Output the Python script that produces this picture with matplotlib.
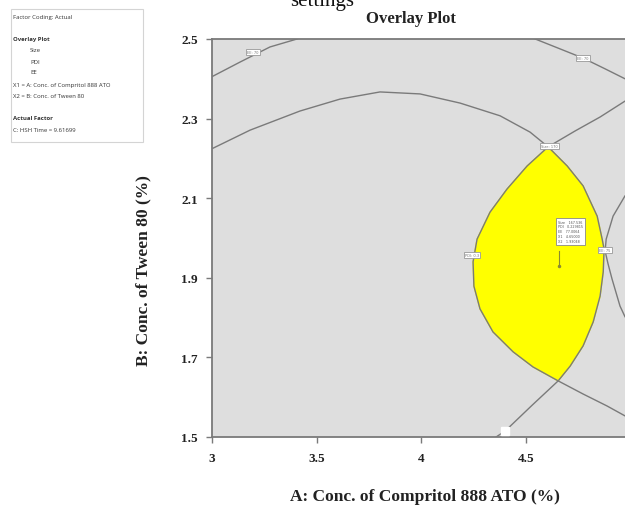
import matplotlib
matplotlib.use("Agg")
import matplotlib.pyplot as plt
from matplotlib.patches import Rectangle

W, H = 625, 510

# contour lines (x = A, y = B)
curve_a_x = [2.99, 3.000, 3.135, 3.278, 3.407, 3.43]
curve_a_y = [2.402, 2.405, 2.442, 2.480, 2.500, 2.506]

curve_b_x = [4.51, 4.534, 4.639, 4.772, 4.877, 4.972, 5.044]
curve_b_y = [2.508, 2.502, 2.480, 2.452, 2.425, 2.400, 2.379]

curve_c_x = [2.99, 3.000, 3.183, 3.421, 3.612, 3.803, 3.994, 4.185, 4.376, 4.519,
             4.605, 4.696, 4.772, 4.839, 4.863, 4.872, 4.868, 4.853, 4.820, 4.772,
             4.710, 4.653, 4.529, 4.400, 4.328, 4.28]
curve_c_y = [2.221, 2.224, 2.271, 2.319, 2.349, 2.367, 2.362, 2.339, 2.307, 2.266,
             2.229, 2.181, 2.131, 2.055, 1.997, 1.972, 1.915, 1.854, 1.789, 1.729,
             1.678, 1.641, 1.580, 1.515, 1.490, 1.470]

curve_d_x = [5.04, 4.972, 4.853, 4.734, 4.605, 4.505, 4.409, 4.328, 4.266, 4.247,
             4.251, 4.280, 4.342, 4.438, 4.533, 4.653, 4.772, 4.886, 4.972, 5.04]
curve_d_y = [2.352, 2.344, 2.304, 2.269, 2.229, 2.181, 2.123, 2.065, 1.997, 1.940,
             1.879, 1.822, 1.764, 1.714, 1.676, 1.641, 1.608, 1.578, 1.553, 1.535]

curve_e_x = [5.044, 4.972, 4.915, 4.882, 4.877, 4.891, 4.910, 4.948, 4.972, 5.044]
curve_e_y = [2.128, 2.106, 2.055, 1.997, 1.967, 1.935, 1.897, 1.829, 1.802, 1.759]

# contour labels (unreadable in the source, approximated)
label_x = [3.197, 4.772, 4.611, 4.242, 4.876]
label_y = [2.467, 2.452, 2.232, 1.957, 1.970]
label_txt = ["EE: 70", "EE: 70", "Size: 170", "PDI: 0.3", "EE: 75"]

flag_x, flag_y = 4.655, 1.930
flag_lines = ["Size   167.536", "PDI   0.229815", "EE   77.0064",
              "X1   4.65000", "X2   1.93048"]

xticks = [3, 3.5, 4, 4.5, 5]
yticks = [1.5, 1.7, 1.9, 2.1, 2.3, 2.5]

box_lines = [
    ("Factor Coding: Actual", 17, 13, "normal"),
    ("Overlay Plot", 40, 13, "bold"),
    ("Size", 51, 30, "normal"),
    ("PDI", 62, 30, "normal"),
    ("EE", 73, 30, "normal"),
    ("X1 = A: Conc. of Compritol 888 ATO", 85, 13, "normal"),
    ("X2 = B: Conc. of Tween 80", 96, 13, "normal"),
    ("Actual Factor", 119, 13, "bold"),
    ("C: HSH Time = 9.61699", 130, 13, "normal"),
]

gray = "#7a7a7a"
serif = "Liberation Serif"

fig = plt.figure(figsize=(W / 100, H / 100), dpi=100)

def fx(px):
    return px / W

def fy(py):
    return 1 - py / H

ax = fig.add_axes([fx(211.7), fy(438), (630.9 - 211.7) / W, (438 - 40) / H])
ax.set_facecolor("#dedede")
ax.set_xlim(3, 5)
ax.set_ylim(1.5, 2.5)

# feasible (yellow) region: left side from curve D, right side from curve C
fill_x = curve_d_x[4:16] + curve_c_x[10:22][::-1]
fill_y = curve_d_y[4:16] + curve_c_y[10:22][::-1]
ax.fill(fill_x, fill_y, color="#ffff00", zorder=1)

for cx, cy in [(curve_a_x, curve_a_y), (curve_b_x, curve_b_y), (curve_c_x, curve_c_y),
               (curve_d_x, curve_d_y), (curve_e_x, curve_e_y)]:
    ax.plot(cx, cy, color=gray, lw=1.0, zorder=2)

for lx, ly, t in zip(label_x, label_y, label_txt):
    ax.text(lx, ly, t, fontsize=2.6, color="#777777", ha="center", va="center",
            zorder=4, bbox=dict(boxstyle="square,pad=0.3", fc="white", ec="#999999", lw=0.6))

# flag
ax.plot([flag_x, flag_x], [flag_y, 1.968], color="#8a8a30", lw=0.8, zorder=3)
ax.plot(flag_x, flag_y, marker="o", ms=1.5, color="#8a8a30", zorder=3)
ax.text(flag_x - 0.004, 2.046, "\n".join(flag_lines), fontsize=2.4, color="#555555",
        ha="left", va="top", linespacing=1.25, zorder=5,
        bbox=dict(boxstyle="square,pad=0.6", fc="white", ec="#888888", lw=0.6))

# white marker at the lower edge
ax.plot(4.40, 1.515, marker="s", ms=6, color="white", mec="white", zorder=5)

for s in ax.spines.values():
    s.set_color(gray)
    s.set_linewidth(1.3)

ax.set_xticks(xticks)
ax.set_xticklabels(["3", "3.5", "4", "4.5", "5"])
ax.set_yticks(yticks)
ax.set_yticklabels(["1.5", "1.7", "1.9", "2.1", "2.3", "2.5"])
ax.tick_params(direction="out", length=4, width=1, color=gray)
ax.tick_params(axis="x", pad=7)
ax.tick_params(axis="y", pad=6)
for lab in ax.get_xticklabels() + ax.get_yticklabels():
    lab.set_fontfamily(serif)
    lab.set_fontweight("bold")
    lab.set_fontsize(9.5)
    lab.set_color("#222222")

# texts around the plot
fig.text(fx(322), fy(6), "settings", fontsize=15, family=serif, ha="center",
         va="baseline", color="#111111")
fig.text(fx(411), fy(19), "Overlay Plot", fontsize=12, family=serif, weight="bold",
         ha="center", va="center", color="#222222")
fig.text(fx(425), fy(497), "A: Conc. of Compritol 888 ATO (%)", fontsize=12.5,
         family=serif, weight="bold", ha="center", va="center", color="#222222")
fig.text(fx(143), fy(271), "B: Conc. of Tween 80 (%)", fontsize=12.5, family=serif,
         weight="bold", ha="center", va="center", rotation=90, color="#222222")

# info box on the left
fig.patches.append(Rectangle((fx(11), fy(143)), (143 - 11) / W, (143 - 10) / H,
                             transform=fig.transFigure, fc="white", ec="#d4d4d4", lw=0.8))
for t, y, x, w in box_lines:
    fig.text(fx(x), fy(y), t, fontsize=4.3, family="Open Sans", weight=w,
             ha="left", va="center", color="#333333")

fig.savefig("out.png", dpi=100)
